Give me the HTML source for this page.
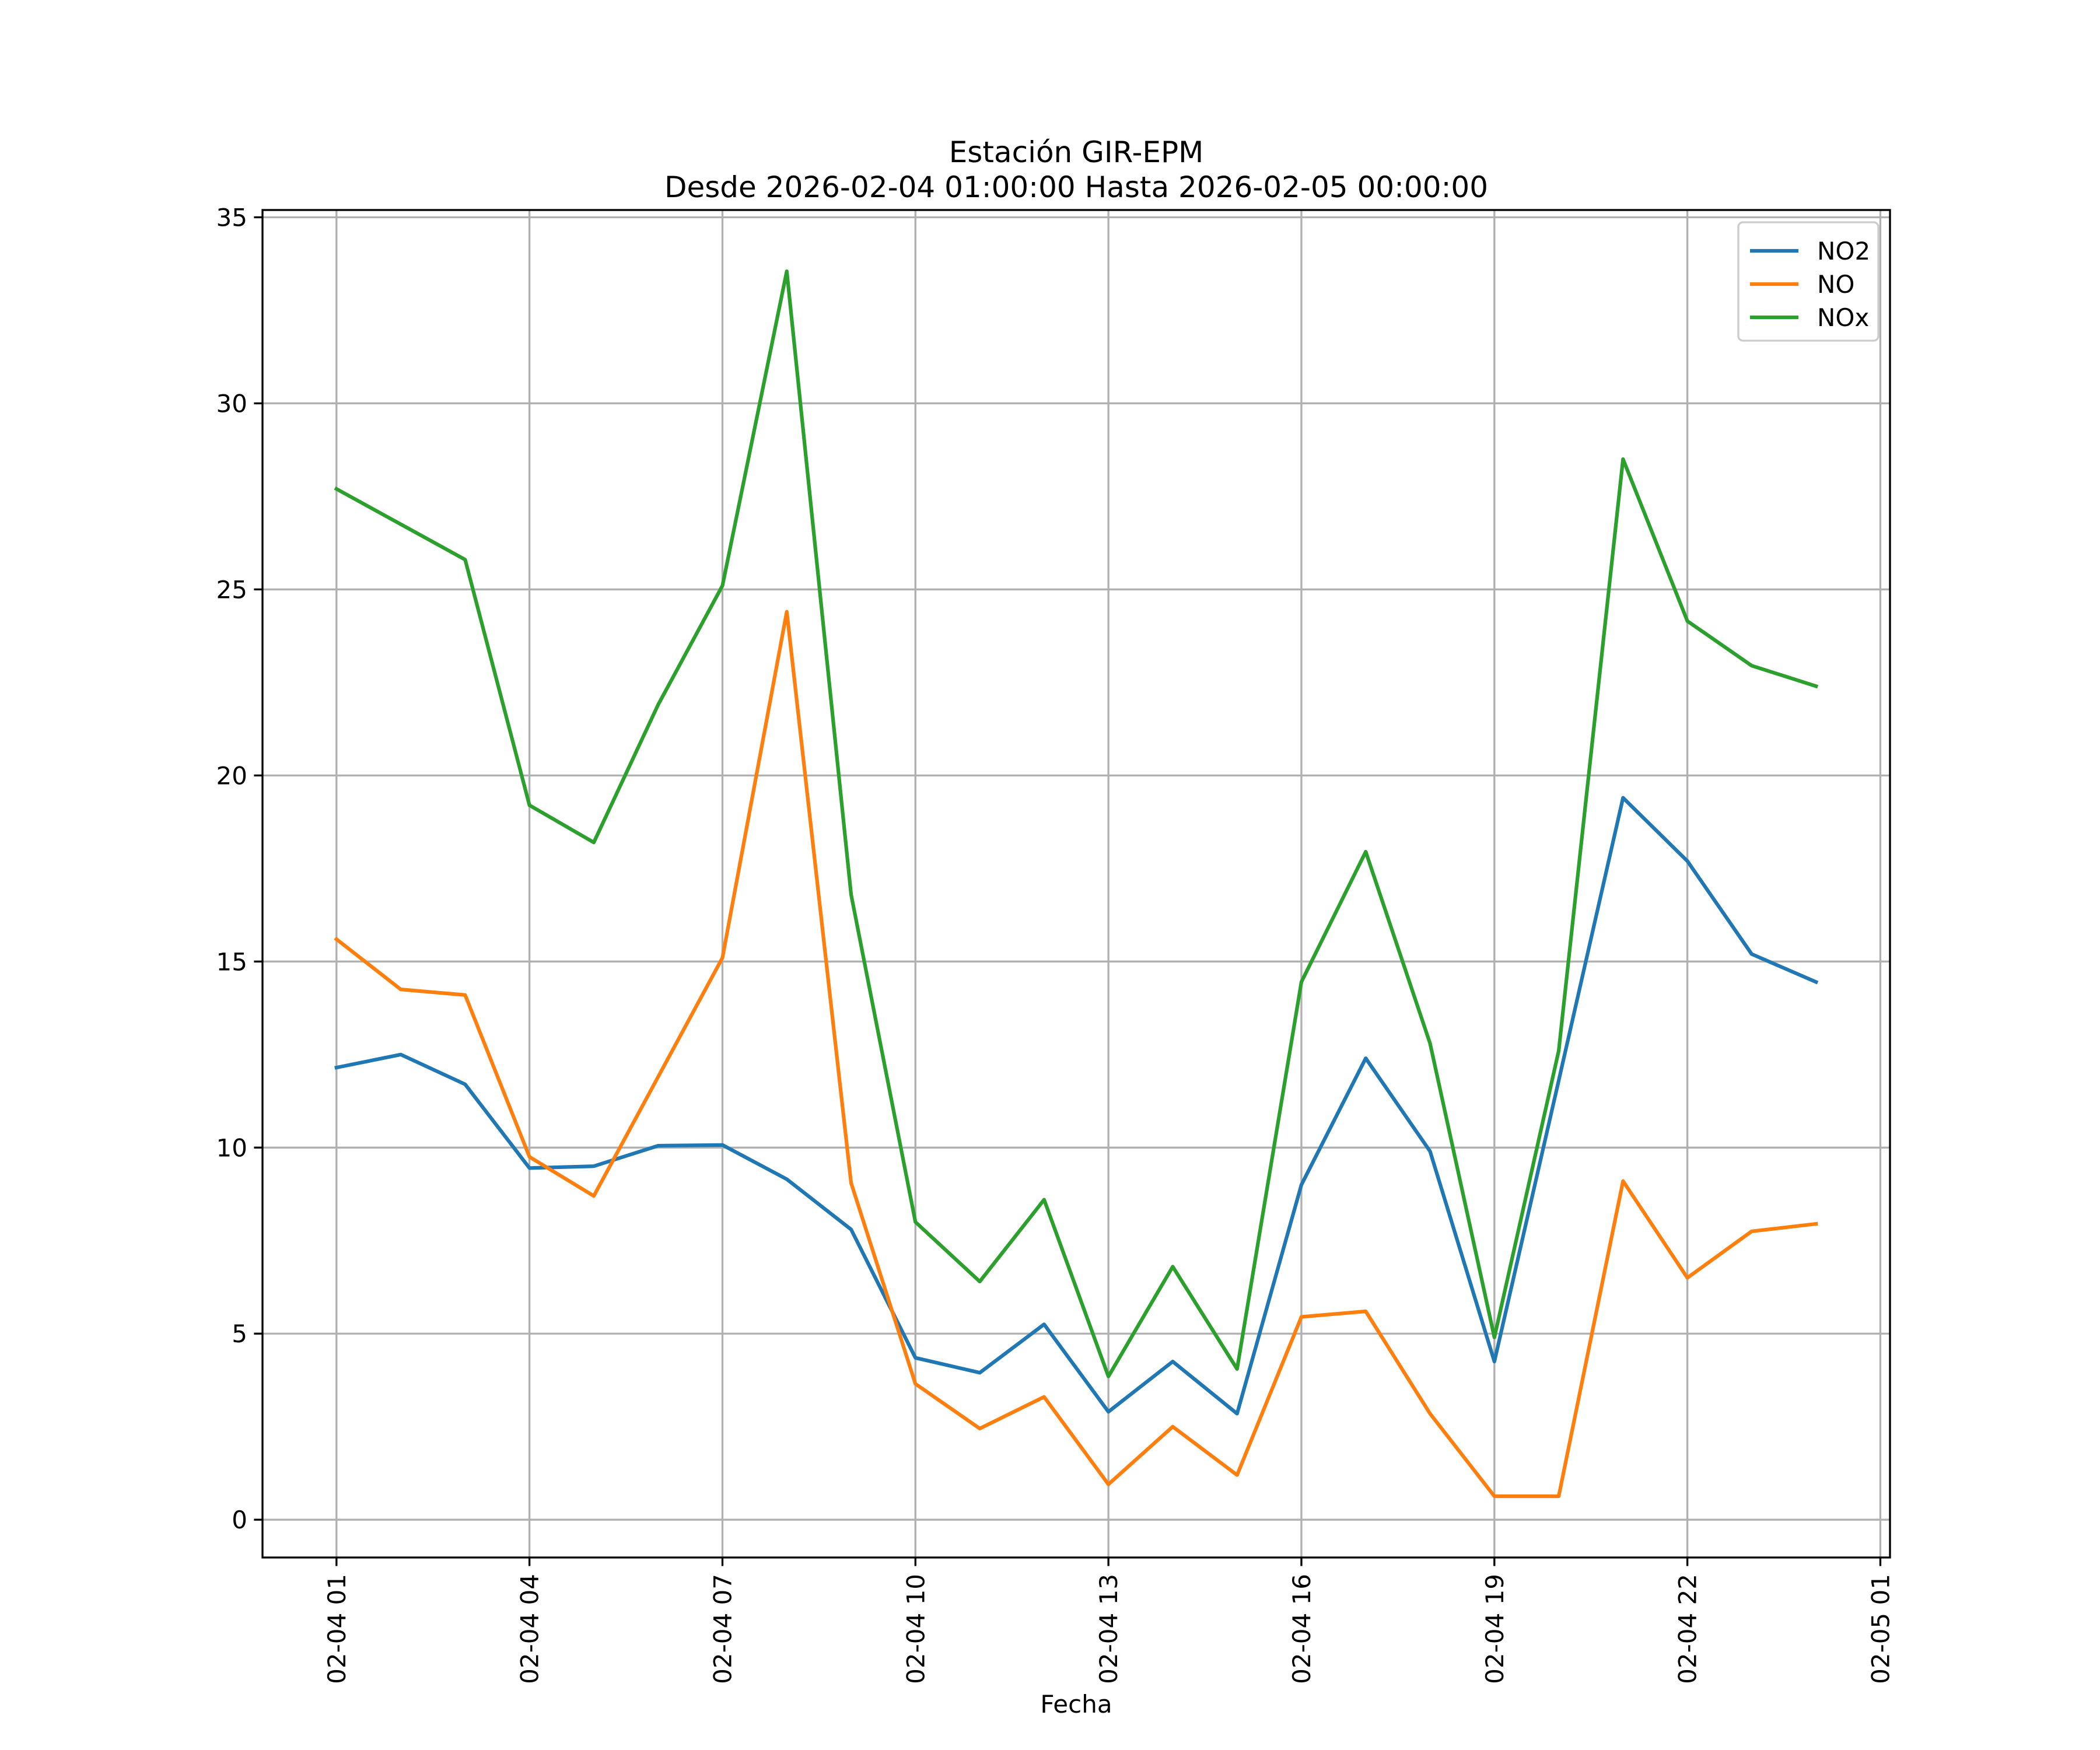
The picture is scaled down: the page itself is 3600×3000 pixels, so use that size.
<!DOCTYPE html>
<html><head><meta charset="utf-8"><style>
html,body{margin:0;padding:0;background:#fff}
svg{display:block;font-family:"DejaVu Sans","Liberation Sans",sans-serif}
</style></head><body>
<svg id="chart" width="3600" height="3000" viewBox="0 0 3600 3000" xmlns="http://www.w3.org/2000/svg">
<rect width="3600" height="3000" fill="#fff"/>
<text x="1845" y="278" font-size="50" text-anchor="middle">Estación GIR-EPM</text>
<text x="1845" y="338" font-size="50" text-anchor="middle">Desde 2026-02-04 01:00:00 Hasta 2026-02-05 00:00:00</text>
<g id="grid"></g>
<g id="series"></g>
<g id="axes"></g>
<text x="1845" y="2936" font-size="42" text-anchor="middle">Fecha</text>
<g id="legend"></g>
</svg>
<script>
const hours=[1,2,3,4,5,6,7,8,9,10,11,12,13,14,15,16,17,18,19,20,21,22,23,24];
const no2=[12.15,12.5,11.7,9.45,9.5,10.05,10.07,9.15,7.8,4.35,3.95,5.25,2.9,4.25,2.85,9.0,12.4,9.9,4.25,11.8,19.4,17.7,15.2,14.45];
const no=[15.6,14.25,14.1,9.75,8.7,11.9,15.1,24.4,9.05,3.65,2.45,3.3,0.95,2.5,1.2,5.45,5.6,2.85,0.63,0.63,9.1,6.5,7.75,7.95];
const nox=[27.7,26.75,25.8,19.2,18.2,21.9,25.1,33.55,16.8,8.0,6.4,8.6,3.85,6.8,4.05,14.45,17.95,12.8,4.9,12.6,28.5,24.15,22.95,22.4];
const yTicks=[0,5,10,15,20,25,30,35];
const xTickHours=[1,4,7,10,13,16,19,22,25];
const xTickLabels=["02-04 01","02-04 04","02-04 07","02-04 10","02-04 13","02-04 16","02-04 19","02-04 22","02-05 01"];
const seriesNames=["NO2","NO","NOx"];
const seriesColors=["#1f77b4","#ff7f0e","#2ca02c"];

const L=450,R=3240,T=360,B=2670;
const all=no2.concat(no,nox);
const dmin=Math.min(...all),dmax=Math.max(...all);
const ymin=dmin-0.05*(dmax-dmin),ymax=dmax+0.05*(dmax-dmin);
const xmin=hours[0]-0.05*(hours[hours.length-1]-hours[0]),xmax=hours[hours.length-1]+0.05*(hours[hours.length-1]-hours[0]);
const xs=h=>L+(h-xmin)/(xmax-xmin)*(R-L);
const ys=v=>B-(v-ymin)/(ymax-ymin)*(B-T);
const NS="http://www.w3.org/2000/svg";
function mk(tag,attrs,parent){const e=document.createElementNS(NS,tag);for(const k in attrs)e.setAttribute(k,attrs[k]);parent.appendChild(e);return e;}
const grid=document.getElementById('grid'),axes=document.getElementById('axes'),ser=document.getElementById('series'),leg=document.getElementById('legend');
yTicks.forEach(v=>{
 const g=mk('line',{x1:L,x2:R,y1:ys(v),y2:ys(v),stroke:'#b0b0b0','stroke-width':3.33},grid);
 
 
 mk('line',{x1:L-14.6,x2:L,y1:ys(v),y2:ys(v),stroke:'#000','stroke-width':3.33},axes);
 const t=mk('text',{x:L-26,y:ys(v)+15,'font-size':42,'text-anchor':'end'},axes);
 t.textContent=v;
 
 
});
xTickHours.forEach((h,i)=>{
 const x=xs(h);
 const g=mk('line',{x1:x,x2:x,y1:T,y2:B,stroke:'#b0b0b0','stroke-width':3.33},grid);
 
 
 mk('line',{x1:x,x2:x,y1:B,y2:B+14.6,stroke:'#000','stroke-width':3.33},axes);
 const t=mk('text',{x:0,y:0,'font-size':42,'text-anchor':'end',transform:`translate(${x+15},${B+28}) rotate(-90)`},axes);
 t.textContent=xTickLabels[i];
 
 
});
const frame=mk('rect',{x:L,y:T,width:R-L,height:B-T,fill:'none',stroke:'#000','stroke-width':3.33},axes);


[no2,no,nox].forEach((d,i)=>{
 const p=mk('polyline',{points:d.map((v,j)=>xs(hours[j])+','+ys(v)).join(' '),fill:'none',stroke:seriesColors[i],'stroke-width':6.25,'stroke-linejoin':'round','stroke-linecap':'square'},ser);
 
 
});
const box=mk('rect',{x:2980,y:381,width:240,height:203,rx:8,fill:'#fff','fill-opacity':0.8,stroke:'#ccc','stroke-width':3.33},leg);


seriesNames.forEach((n,i)=>{
 const y=430+i*57;
 mk('line',{x1:3000,x2:3083,y1:y,y2:y,stroke:seriesColors[i],'stroke-width':6.25},leg);
 const t=mk('text',{x:3115,y:y+15,'font-size':42},leg);
 t.textContent=n;
 
 
});
</script>
</body></html>
